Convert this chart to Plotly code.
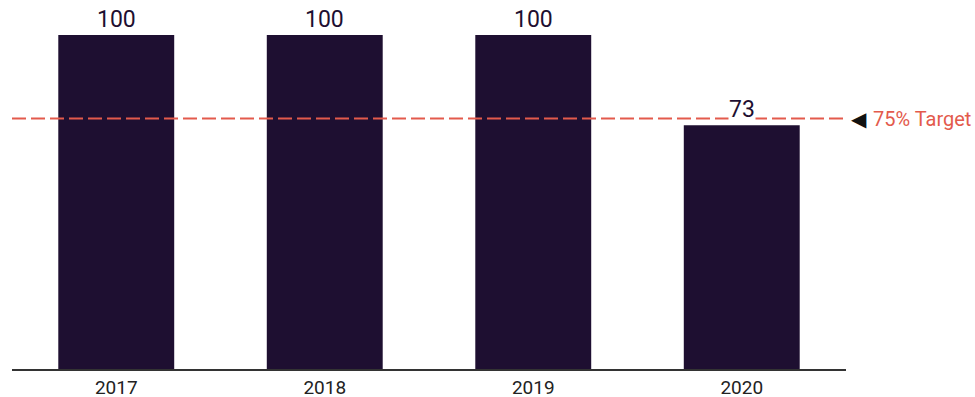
import plotly.graph_objects as go

years = ["2017", "2018", "2019", "2020"]
values = [100, 100, 100, 73]
target = 75
target_label = "75% Target"

bar_color = "#1e0f31"
red = "#e35a4c"

fig = go.Figure()
fig.add_trace(go.Bar(x=years, y=values, marker=dict(color=bar_color, line=dict(width=0)),
                     hoverinfo="skip"))

# value labels (category index positions on the category axis)
for i, v in enumerate(values):
    fig.add_annotation(x=i, y=v, text=str(v), showarrow=False, yanchor="bottom",
                       yshift=1, bgcolor="white", borderpad=0,
                       font=dict(family="Roboto", size=23, color=bar_color))

fig.add_shape(type="line", xref="paper", yref="y", x0=0, x1=1, y0=target, y1=target,
              line=dict(color=red, width=2, dash="14px,5px"), layer="above")
fig.add_annotation(xref="paper", yref="y", x=1.0156, y=target, text="◀", showarrow=False,
                   xanchor="center", font=dict(family="DejaVu Sans", size=20, color="#111111"))
fig.add_annotation(xref="paper", yref="y", x=1.0298, y=target, text=target_label, showarrow=False,
                   xanchor="left", font=dict(family="Roboto", size=20, color=red))

fig.update_layout(
    width=975, height=397,
    margin=dict(l=12, r=129, t=35, b=28),
    plot_bgcolor="white", paper_bgcolor="white",
    bargap=0.444, showlegend=False,
    xaxis=dict(type="category", range=[-0.5, len(years) - 0.5], automargin=False,
               showline=True, linecolor="#333333", linewidth=1.5, ticks="",
               ticklabelstandoff=0,
               tickfont=dict(family="Roboto", size=19, color="#222222"), showgrid=False),
    yaxis=dict(range=[0, 100], visible=False, showgrid=False, zeroline=False, automargin=False),
)
fig.write_html("out.html", config={"displayModeBar": False},
               post_script="document.body.style.margin='0px';")
